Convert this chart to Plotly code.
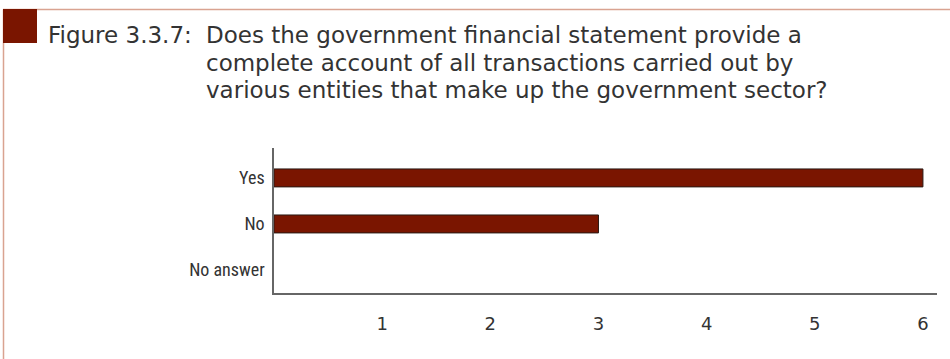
import plotly.graph_objects as go

# Survey responses
categories = ["Yes", "No", "No answer"]
counts = [6, 3, 0]
x_ticks = [1, 2, 3, 4, 5, 6]

title_label = "Figure 3.3.7:"
title_lines = [
    "Does the government financial statement provide a",
    "complete account of all transactions carried out by",
    "various entities that make up the government sector?",
]

BAR_COLOR = "#7a1500"
FRAME_COLOR = "#d9a391"
TEXT_COLOR = "#333333"

# plot-area geometry in pixels, used to place the frame and title in paper units
L, R, T, B, W, H = 274, 13, 148, 66, 950, 359
PW, PH = W - L - R, H - T - B


def px_x(x):
    return (x - L) / PW


def px_y(y):
    return (H - B - y) / PH


fig = go.Figure(
    go.Bar(
        x=counts,
        y=categories,
        orientation="h",
        width=0.39,
        marker=dict(color=BAR_COLOR,
                    line=dict(color="#2a1a14", width=[1 if c else 0 for c in counts])),
        hoverinfo="x+y",
    )
)

title_font = dict(family="DejaVu Sans, sans-serif", size=23, color=TEXT_COLOR)
TITLE_TOP, LINE_STEP = 20, 27.5

annotations = [
    dict(text=title_label, xref="paper", yref="paper",
         x=px_x(46), y=px_y(TITLE_TOP), xanchor="left", yanchor="top",
         showarrow=False, align="left", font=title_font)
]
for i, line in enumerate(title_lines):
    annotations.append(
        dict(text=line, xref="paper", yref="paper",
             x=px_x(204), y=px_y(TITLE_TOP + i * LINE_STEP), xanchor="left", yanchor="top",
             showarrow=False, align="left", font=title_font)
    )

fig.update_layout(
    width=W,
    height=H,
    margin=dict(l=L, r=R, t=T, b=B),
    paper_bgcolor="white",
    plot_bgcolor="white",
    showlegend=False,
    xaxis=dict(
        range=[0, 6.13],
        tickvals=x_ticks,
        ticktext=[str(v) for v in x_ticks],
        showgrid=False,
        zeroline=False,
        showline=True,
        linecolor="#666666",
        linewidth=1.5,
        ticks="",
        ticklabelstandoff=14,
        tickfont=dict(family="DejaVu Sans, sans-serif", size=18, color=TEXT_COLOR),
    ),
    yaxis=dict(
        categoryorder="array",
        categoryarray=categories,
        autorange=False,
        range=[2.5, -0.65],
        showgrid=False,
        zeroline=False,
        showline=True,
        linecolor="#666666",
        linewidth=1.5,
        ticks="",
        ticklabelstandoff=4,
        tickfont=dict(family="Liberation Sans Narrow, Roboto Condensed, sans-serif", size=18, color=TEXT_COLOR),
    ),
    shapes=[
        # frame: top rule and left rule
        dict(type="line", xref="paper", yref="paper", x0=px_x(3), x1=1.05,
             y0=px_y(9.5), y1=px_y(9.5),
             line=dict(color=FRAME_COLOR, width=1.5)),
        dict(type="line", xref="paper", yref="paper", x0=px_x(3.5), x1=px_x(3.5),
             y0=px_y(9.5), y1=px_y(H + 2),
             line=dict(color=FRAME_COLOR, width=1.5)),
        # corner marker square
        dict(type="rect", xref="paper", yref="paper",
             x0=px_x(3), x1=px_x(37), y0=px_y(43), y1=px_y(9),
             fillcolor=BAR_COLOR, line=dict(width=0)),
    ],
    annotations=annotations,
)

fig.write_html("out.html")
